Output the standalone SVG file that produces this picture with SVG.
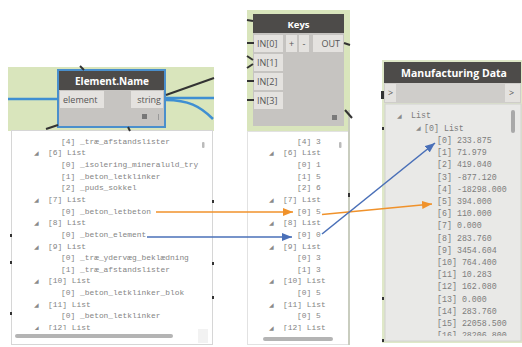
<svg xmlns="http://www.w3.org/2000/svg" width="522" height="347" viewBox="0 0 522 347">
<style>
.green{fill:#d9e5bc}
.hdr{fill:#4d4b49}
.body{fill:#c6c4c1}
.port{fill:#e4e2df}
.title{font-family:"Open Sans","Liberation Sans",sans-serif;font-weight:bold;fill:#ffffff;text-anchor:middle}
.plab{font-family:"Open Sans","Liberation Sans",sans-serif;fill:#555555;font-size:9px}
.w{font-family:"Liberation Mono","DejaVu Sans Mono",monospace;font-size:7.9px;fill:#848484}
.wr{font-family:"Liberation Mono","DejaVu Sans Mono",monospace;font-size:8.3px;fill:#7d7d7d}
.tri{font-family:"DejaVu Sans",sans-serif;font-size:6px;fill:#8a8a8a}
.wire{fill:none;stroke:#3f8fd2;stroke-width:2.5}
.dwire{fill:none;stroke:#333333;stroke-width:2}
.orange{fill:none;stroke:#f0922b;stroke-width:1.6}
.blue{fill:none;stroke:#4a70b8;stroke-width:1.6}
.sb{fill:#b4b4b4}
.tick{fill:#333333}
</style>
<defs>
<marker id="ao" markerUnits="userSpaceOnUse" markerWidth="10" markerHeight="8" refX="10" refY="4" orient="auto"><path d="M0,0 L10,4 L0,8 z" fill="#f0922b"/></marker>
<marker id="ab" markerUnits="userSpaceOnUse" markerWidth="10" markerHeight="8" refX="10" refY="4" orient="auto"><path d="M0,0 L10,4 L0,8 z" fill="#4a70b8"/></marker>
<clipPath id="cl"><rect x="12" y="131" width="199" height="199"/></clipPath>
<clipPath id="cm"><rect x="248" y="131" width="100" height="200"/></clipPath>
<clipPath id="cr"><rect x="385" y="104" width="135" height="232"/></clipPath>
</defs>
<rect width="522" height="347" fill="#ffffff"/>

<!-- Element.Name node -->
<g id="element-name">
<rect class="green" x="8" y="67" width="206" height="64"/>
<rect class="body" x="58" y="70" width="107" height="57" stroke="#4a8fcc" stroke-width="2"/>
<rect class="hdr" x="59" y="71" width="105" height="19"/>
<text class="title" x="112" y="84.5" font-size="10">Element.Name</text>
<rect class="port" x="60" y="91" width="44" height="17"/>
<text class="plab" x="63" y="103">element</text>
<rect class="port" x="131" y="91" width="32" height="17"/>
<text class="plab" x="161" y="103" text-anchor="end">string</text>
<rect x="142" y="114" width="5" height="5" fill="#777777"/>
<rect x="158" y="114" width="1" height="6" fill="#999999"/>
</g>

<!-- Element.Name watch panel -->
<g id="element-name-watch">
<rect x="11.5" y="130.5" width="201" height="214" fill="#ffffff" stroke="#d6d6d6"/>
<rect x="202" y="142" width="2.5" height="6" rx="1" fill="#bbbbbb"/>
<rect class="sb" x="15" y="334" width="158" height="4" rx="2"/>
<rect x="198" y="329" width="10" height="14" fill="#f2f2f2"/>
<rect class="tick" x="212" y="200" width="2" height="3"/>
<rect class="tick" x="212" y="262" width="2" height="3"/>
<rect class="tick" x="212" y="296" width="2" height="3"/>
<rect class="tick" x="10" y="234" width="2" height="3"/>
<rect class="tick" x="10" y="261" width="2" height="3"/>
<rect class="tick" x="10" y="312" width="2" height="3"/>
<g clip-path="url(#cl)">
<text class="w" x="61" y="143.8">[4] _træ_afstandslister</text>
<text class="tri" x="34" y="155.4">◢</text><text class="w" x="48" y="155.4">[6] List</text>
<text class="w" x="61" y="167.1">[0] _isolering_mineraluld_try</text>
<text class="w" x="61" y="178.7">[1] _beton_letklinker</text>
<text class="w" x="61" y="190.3">[2] _puds_sokkel</text>
<text class="tri" x="34" y="202">◢</text><text class="w" x="48" y="202">[7] List</text>
<text class="w" x="61" y="213.6">[0] _beton_letbeton</text>
<text class="tri" x="34" y="225.2">◢</text><text class="w" x="48" y="225.2">[8] List</text>
<text class="w" x="61" y="236.8">[0] _beton_element</text>
<text class="tri" x="34" y="248.5">◢</text><text class="w" x="48" y="248.5">[9] List</text>
<text class="w" x="61" y="260.1">[0] _træ_ydervæg_beklædning</text>
<text class="w" x="61" y="271.7">[1] _træ_afstandslister</text>
<text class="tri" x="34" y="283.4">◢</text><text class="w" x="48" y="283.4">[10] List</text>
<text class="w" x="61" y="295">[0] _beton_letklinker_blok</text>
<text class="tri" x="34" y="306.6">◢</text><text class="w" x="48" y="306.6">[11] List</text>
<text class="w" x="61" y="318.3">[0] _beton_letklinker</text>
<text class="tri" x="34" y="329.9">◢</text><text class="w" x="48" y="329.9">[12] List</text>
</g>
</g>

<!-- Keys node -->
<g id="keys">
<rect class="green" x="247" y="10" width="103" height="121"/>
<rect class="body" x="253" y="14" width="91" height="112"/>
<rect class="hdr" x="253" y="14" width="91" height="19"/>
<text class="title" x="298.5" y="27.5" font-size="9.5">Keys</text>
<rect class="port" x="254" y="35" width="29" height="17"/>
<text class="plab" x="257" y="47">IN[0]</text>
<rect class="port" x="254" y="54" width="29" height="17"/>
<text class="plab" x="257" y="66">IN[1]</text>
<rect class="port" x="254" y="73" width="29" height="17"/>
<text class="plab" x="257" y="85">IN[2]</text>
<rect class="port" x="254" y="92" width="29" height="17"/>
<text class="plab" x="257" y="104">IN[3]</text>
<rect class="port" x="286" y="35" width="11" height="17"/>
<text class="plab" x="291.5" y="47" text-anchor="middle">+</text>
<rect class="port" x="299" y="35" width="10" height="17"/>
<text class="plab" x="304" y="47" text-anchor="middle">-</text>
<rect class="port" x="313" y="35" width="30" height="17"/>
<text class="plab" x="340" y="47" text-anchor="end">OUT</text>
<rect x="332" y="115" width="5" height="5" fill="#7a7a7a"/>
</g>

<!-- Keys watch panel -->
<g id="keys-watch">
<rect x="247.5" y="131.5" width="101" height="213" fill="#ffffff" stroke="#e2e2e2"/>
<rect x="348" y="110" width="2" height="235" fill="#c9cdbf"/>
<rect class="tick" x="348" y="193" width="2" height="4"/>
<rect x="339" y="142" width="2.5" height="6" rx="1" fill="#bbbbbb"/>
<rect class="sb" x="263" y="337" width="70" height="4" rx="2"/>
<g clip-path="url(#cm)">
<text class="w" x="297" y="143.8">[4] 3</text>
<text class="tri" x="269" y="155.4">◢</text><text class="w" x="283" y="155.4">[6] List</text>
<text class="w" x="297" y="167.1">[0] 1</text>
<text class="w" x="297" y="178.7">[1] 5</text>
<text class="w" x="297" y="190.3">[2] 6</text>
<text class="tri" x="269" y="202">◢</text><text class="w" x="283" y="202">[7] List</text>
<text class="w" x="297" y="213.6">[0] 5</text>
<text class="tri" x="269" y="225.2">◢</text><text class="w" x="283" y="225.2">[8] List</text>
<text class="w" x="297" y="236.8">[0] 0</text>
<text class="tri" x="269" y="248.5">◢</text><text class="w" x="283" y="248.5">[9] List</text>
<text class="w" x="297" y="260.1">[0] 3</text>
<text class="w" x="297" y="271.7">[1] 3</text>
<text class="tri" x="269" y="283.4">◢</text><text class="w" x="283" y="283.4">[10] List</text>
<text class="w" x="297" y="295">[0] 5</text>
<text class="tri" x="269" y="306.6">◢</text><text class="w" x="283" y="306.6">[11] List</text>
<text class="w" x="297" y="318.3">[0] 5</text>
<text class="tri" x="269" y="329.9">◢</text><text class="w" x="283" y="329.9">[12] List</text>
</g>
</g>

<!-- Manufacturing Data node -->
<g id="manufacturing-data">
<rect x="382" y="60" width="140" height="283" fill="#dfe8c8"/>
<rect class="hdr" x="384" y="62" width="137" height="21"/>
<text class="title" x="454" y="77" font-size="10.5">Manufacturing Data</text>
<rect x="384" y="83" width="137" height="20" fill="#cfcdca"/>
<rect class="port" x="385" y="84" width="11" height="18"/>
<text class="plab" x="388" y="96">&gt;</text>
<rect class="port" x="505" y="84" width="15" height="18"/>
<text class="plab" x="509" y="96">&gt;</text>
<rect x="385" y="104" width="136" height="237" fill="#e9e9e7" stroke="#d2d2d0" stroke-width="1"/>
<rect x="511" y="110" width="4" height="23" rx="2" fill="#a9a9a9"/>
<rect class="tick" x="381" y="91" width="3" height="8"/>
<rect class="tick" x="382" y="127" width="2" height="3"/>
<rect class="tick" x="382" y="297" width="2" height="3"/>
<rect class="tick" x="382" y="339" width="2" height="3"/>
<g clip-path="url(#cr)">
<text class="tri" x="397" y="117.5">◢</text><text class="wr" x="411" y="118">List</text>
<text class="tri" x="416" y="130">◢</text><text class="wr" x="424" y="130.5">[0] List</text>
<text class="wr" x="437" y="143">[0] 233.875</text>
<text class="wr" x="437" y="155.2">[1] 71.979</text>
<text class="wr" x="437" y="167.4">[2] 419.040</text>
<text class="wr" x="437" y="179.6">[3] -877.120</text>
<text class="wr" x="437" y="191.8">[4] -18298.000</text>
<text class="wr" x="437" y="204">[5] 394.000</text>
<text class="wr" x="437" y="216.2">[6] 110.000</text>
<text class="wr" x="437" y="228.4">[7] 0.000</text>
<text class="wr" x="437" y="240.6">[8] 283.760</text>
<text class="wr" x="437" y="252.8">[9] 3454.604</text>
<text class="wr" x="437" y="265">[10] 764.400</text>
<text class="wr" x="437" y="277.2">[11] 10.283</text>
<text class="wr" x="437" y="289.4">[12] 162.080</text>
<text class="wr" x="437" y="301.6">[13] 0.000</text>
<text class="wr" x="437" y="313.8">[14] 283.760</text>
<text class="wr" x="437" y="326">[15] 22058.500</text>
<text class="wr" x="437" y="338.2">[16] 28206.800</text>
</g>
</g>

<!-- Connectors -->
<g id="connectors">
<path class="wire" d="M8,99 L58,99"/>
<path class="wire" d="M166,98 L214,98"/>
<path class="wire" d="M166,100 C188,100 200,106 213,119"/>
<path class="dwire" d="M166,95 L214,78"/>
<path class="dwire" d="M80,66 L84,70"/>
<path class="dwire" d="M46,129 L58,125"/>
<path class="dwire" d="M128,127 L130,131"/>
<path class="dwire" d="M247,20 L253,21"/>
<path class="dwire" d="M247,43 L254,43"/>
<path class="dwire" d="M247,56 L253,60 M247,68 L253,64"/>
<path class="dwire" d="M247,81 L254,81"/>
<path class="dwire" d="M247,100 L254,100"/>
<path class="dwire" d="M344,43 L350,45"/>
<path class="dwire" d="M345,110 L352,118"/>
<path class="orange" d="M156,212 L293,212" marker-end="url(#ao)"/>
<path class="blue" d="M147,237 L292,237" marker-end="url(#ab)"/>
<path class="orange" d="M322,214.5 L432,204" marker-end="url(#ao)"/>
<path class="blue" d="M322,234 L435,143" marker-end="url(#ab)"/>
</g>
</svg>
